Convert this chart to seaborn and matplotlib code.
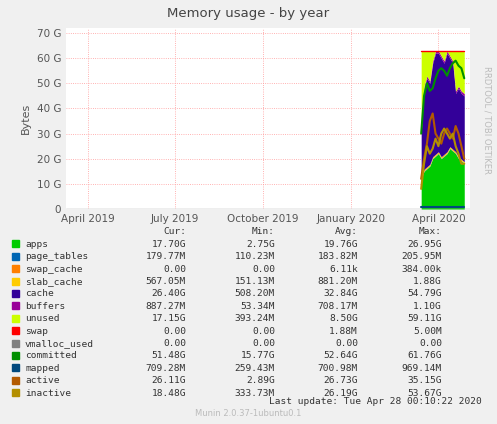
import matplotlib
matplotlib.use("Agg")
import matplotlib.pyplot as plt
import seaborn as sns
import numpy as np
import pandas as pd

sns.set_style("white")
plt.rcParams['font.family'] = ['DejaVu Sans']

dates = pd.date_range("2020-03-14", "2020-04-28", periods=16)
apps = [12,15,16,17,20,21,22,20,21,22,24,23,22,20,19,18]
page_tables = [0.18]*16
swap_cache = [0.0]*16
slab_cache = [0.6]*16
cache_top = [30,48,52,50,58,62,62,60,58,62,60,58,46,48,46,45]
buffers = [0.9]*16
swap = [0.0]*16
committed = [30,45,50,47,48,52,55,56,55,53,56,58,59,57,56,52]
mapped = [0.7]*16
active = [12,20,26,35,38,30,28,26,30,32,30,28,33,30,25,20]
inactive = [8,18,25,22,24,28,25,30,32,30,28,30,25,22,18,18]
total_ram = 63.0

apps_a = np.array(apps); pt = np.array(page_tables); sc = np.array(swap_cache)
sl = np.array(slab_cache); ca = np.array(cache_top) - apps_a - pt - sc - sl
bu = np.array(buffers)
un = total_ram - (apps_a + pt + sc + sl + ca + bu)

names = ["apps","page_tables","swap_cache","slab_cache","cache","buffers","unused","swap",
         "vmalloc_used","committed","mapped","active","inactive"]
colors = ["#00CC00","#0066B3","#FF8000","#FFCC00","#330099","#990099","#CCFF00","#FF0000",
          "#808080","#008F00","#00487D","#B35A00","#B38F00"]
cur = ["17.70G","179.77M","0.00","567.05M","26.40G","887.27M","17.15G","0.00","0.00","51.48G","709.28M","26.11G","18.48G"]
mn = ["2.75G","110.23M","0.00","151.13M","508.20M","53.34M","393.24M","0.00","0.00","15.77G","259.43M","2.89G","333.73M"]
avg = ["19.76G","183.82M","6.11k","881.20M","32.84G","708.17M","8.50G","1.88M","0.00","52.64G","700.98M","26.73G","26.19G"]
mx = ["26.95G","205.95M","384.00k","1.88G","54.79G","1.10G","59.11G","5.00M","0.00","61.76G","969.14M","35.15G","53.67G"]

fig = plt.figure(figsize=(4.97,4.24), dpi=100, facecolor="#F0F0F0")
ax = fig.add_axes([66/497, 1-209/424, 404/497, 181/424])
ax.set_facecolor("white")
ax.stackplot(dates, apps_a, pt, sc, sl, ca, bu, un, colors=colors[:7], linewidth=0)
ax.plot(dates, [total_ram]*16, color="#FF0000", lw=1)
for vals, c in [(committed,"#008F00"),(mapped,"#00487D"),(active,"#B35A00"),(inactive,"#B38F00")]:
    sns.lineplot(x=dates, y=vals, color=c, lw=1.5, ax=ax)
ax.set_xlabel("")
ax.set_xlim(pd.Timestamp("2019-03-09"), pd.Timestamp("2020-05-04"))
ax.set_ylim(0, 72)
ax.set_yticks(range(0,71,10))
ax.set_yticklabels(["0"]+[f"{v} G" for v in range(10,71,10)])
xt = pd.to_datetime(["2019-04-01","2019-07-01","2019-10-01","2020-01-01","2020-04-01"])
ax.set_xticks(xt)
ax.set_xticklabels(["April 2019","July 2019","October 2019","January 2020","April 2020"])
ax.tick_params(labelsize=7.5, colors="#555555", length=0)
ax.grid(True, color="#FF9999", ls=":", lw=0.6)
for s in ax.spines.values(): s.set_visible(False)
ax.axhline(0, color="#AAAAAA", lw=1)
ax.set_ylabel("Bytes", fontsize=8, color="#555555")
fig.text(0.5, 1-14/424, "Memory usage - by year", ha="center", va="center", fontsize=9.5, color="#444444")
fig.text(487/497, 1-120/424, "RRDTOOL / TOBI OETIKER", rotation=270, ha="center", va="center", fontsize=6, color="#BBBBBB")

mono = "DejaVu Sans Mono"
y0 = 232
fs = 6.8
for txt, x in [("Cur:",186),("Min:",275),("Avg:",358),("Max:",442)]:
    fig.text(x/497, 1-y0/424, txt, ha="right", va="center", fontsize=fs, family=mono, color="#333333")
for i, n in enumerate(names):
    y = 1-(y0+12.4*(i+1))/424
    fig.patches.append(plt.Rectangle((12/497, y-3/424), 7/497, 7/424, transform=fig.transFigure, color=colors[i]))
    fig.text(25/497, y, n, va="center", fontsize=fs, family=mono, color="#333333")
    for v, x in [(cur[i],186),(mn[i],275),(avg[i],358),(mx[i],442)]:
        fig.text(x/497, y, v, ha="right", va="center", fontsize=fs, family=mono, color="#333333")
fig.text(482/497, 1-401/424, "Last update: Tue Apr 28 00:10:22 2020", ha="right", va="center", fontsize=fs, family=mono, color="#333333")
fig.text(0.5, 1-414/424, "Munin 2.0.37-1ubuntu0.1", ha="center", va="center", fontsize=6, color="#BBBBBB")
fig.savefig("out.png", dpi=100, facecolor=fig.get_facecolor())
